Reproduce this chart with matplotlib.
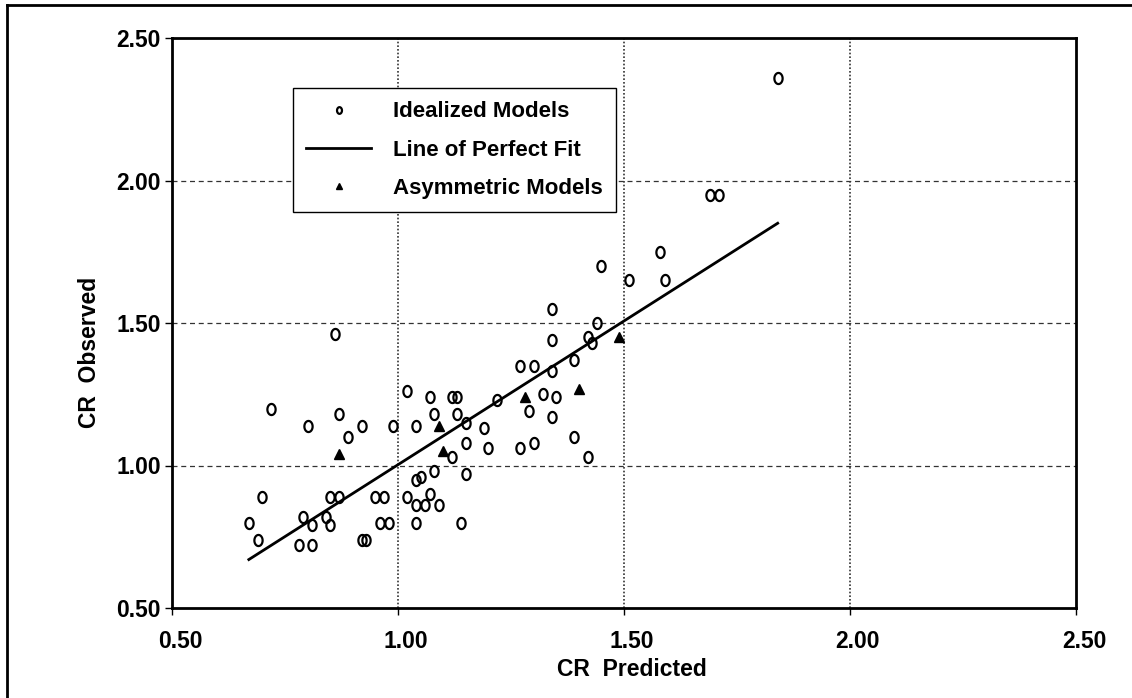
import numpy as np
import matplotlib
matplotlib.use("Agg")
import matplotlib.pyplot as plt
from matplotlib.path import Path
from matplotlib.transforms import ScaledTranslation
from matplotlib.lines import Line2D

# ---------------- data ----------------
ideal_x = [0.86, 0.72, 0.80, 0.87, 0.89, 0.92, 0.99, 1.02, 1.04, 1.07,
           1.08, 1.12, 1.13, 1.13, 1.15, 1.19, 1.15, 1.20, 1.12, 1.22,
           0.70, 0.67, 0.69, 0.78, 0.81, 0.79, 0.81, 0.84, 0.85, 0.85,
           0.87, 0.92, 0.93, 0.95, 0.97, 0.96, 0.98, 1.02, 1.04, 1.05,
           1.04, 1.06, 1.04, 1.07, 1.08, 1.09, 1.15, 1.14,
           1.34, 1.44, 1.34, 1.42, 1.43, 1.39, 1.27, 1.30, 1.34, 1.32,
           1.35, 1.29, 1.34, 1.39, 1.27, 1.30, 1.42, 1.45, 1.51, 1.59,
           1.58, 1.69, 1.71, 1.84]
ideal_y = [1.46, 1.20, 1.14, 1.18, 1.10, 1.14, 1.14, 1.26, 1.14, 1.24,
           1.18, 1.24, 1.24, 1.18, 1.15, 1.13, 1.08, 1.06, 1.03, 1.23,
           0.89, 0.80, 0.74, 0.72, 0.72, 0.82, 0.79, 0.82, 0.79, 0.89,
           0.89, 0.74, 0.74, 0.89, 0.89, 0.80, 0.80, 0.89, 0.95, 0.96,
           0.86, 0.86, 0.80, 0.90, 0.98, 0.86, 0.97, 0.80,
           1.55, 1.50, 1.44, 1.45, 1.43, 1.37, 1.35, 1.35, 1.33, 1.25,
           1.24, 1.19, 1.17, 1.10, 1.06, 1.08, 1.03, 1.70, 1.65, 1.65,
           1.75, 1.95, 1.95, 2.36]

asym_x = [0.87, 1.09, 1.10, 1.28, 1.40, 1.49]
asym_y = [1.04, 1.14, 1.05, 1.24, 1.27, 1.45]

fit_x = [0.67, 1.84]
fit_y = [0.67, 1.85]

ticks = [0.50, 1.00, 1.50, 2.00, 2.50]
tick_labels = ["0.50", "1.00", "1.50", "2.00", "2.50"]

# ---------------- style ----------------
plt.rcParams['font.family'] = ['Liberation Sans', 'DejaVu Sans']
plt.rcParams['font.weight'] = 'bold'

W, H = 1132, 698
fig = plt.figure(figsize=(W / 100, H / 100), dpi=100)
ax = fig.add_axes([172 / W, 1 - 608 / H, (1076 - 172) / W, (608 - 38) / H])

# oval "0"-like marker
th = np.linspace(0, 2 * np.pi, 60)
oval = Path(np.column_stack([0.74 * np.cos(th), np.sin(th)]), closed=True)

ax.plot(ideal_x, ideal_y, linestyle='none', marker=oval, markersize=8,
        markerfacecolor='none', markeredgecolor='black', markeredgewidth=1.6,
        label='Idealized Models', zorder=3)
ax.plot(fit_x, fit_y, color='black', linewidth=2.0, label='Line of Perfect Fit', zorder=3)
ax.plot(asym_x, asym_y, linestyle='none', marker='^', markersize=7.5,
        color='black', label='Asymmetric Models', zorder=3)

ax.set_xlim(0.5, 2.5)
ax.set_ylim(0.5, 2.5)
ax.set_xticks(ticks)
ax.set_yticks(ticks)
ax.set_xticklabels(tick_labels)
ax.set_yticklabels(tick_labels)
ax.tick_params(axis='both', direction='out', length=5, width=1.0,
               labelsize=16.5, color='black')
ax.tick_params(axis='y', pad=3)
ax.tick_params(axis='x', pad=11)
for lab in ax.get_xticklabels():
    lab.set_transform(lab.get_transform() + ScaledTranslation(8 / 100, 0, fig.dpi_scale_trans))

for v in [1.0, 1.5, 2.0]:
    ax.axhline(v, color='#333333', linewidth=0.9, linestyle=(0, (4, 3)), zorder=1)
    ax.axvline(v, color='#333333', linewidth=1.2, linestyle=(0, (1, 1.2)), zorder=1)

for sp in ax.spines.values():
    sp.set_linewidth(2.0)
    sp.set_color('black')

ax.set_xlabel("CR  Predicted", fontsize=16.5, fontweight='bold', va='center')
ax.xaxis.set_label_coords((632 - 172) / 904, (608 - 670) / 570)
ax.set_ylabel("CR  Observed", fontsize=16.5, fontweight='bold', va='center', ha='center')
ax.yaxis.set_label_coords((90 - 172) / 904, (608 - 352) / 570)

leg = ax.legend(loc='upper left', bbox_to_anchor=((293 - 172) / 904, (608 - 88) / 570),
                borderaxespad=0, frameon=True, fancybox=False, framealpha=1,
                edgecolor='black', fontsize=16, markerscale=0.6,
                handlelength=2.9, handletextpad=1.0, labelspacing=0.78,
                borderpad=0.6)
leg.get_frame().set_linewidth(1.0)
for t in leg.get_texts():
    t.set_fontweight('bold')
leg.set_zorder(5)

# outer page frame (top and left edges)
fig.add_artist(Line2D([7 / W, 7 / W], [0, 1 - 5 / H], transform=fig.transFigure,
                      color='black', linewidth=2.0))
fig.add_artist(Line2D([7 / W, 1], [1 - 5 / H, 1 - 5 / H], transform=fig.transFigure,
                      color='black', linewidth=2.0))

fig.savefig("out.png", dpi=100, facecolor='white')
